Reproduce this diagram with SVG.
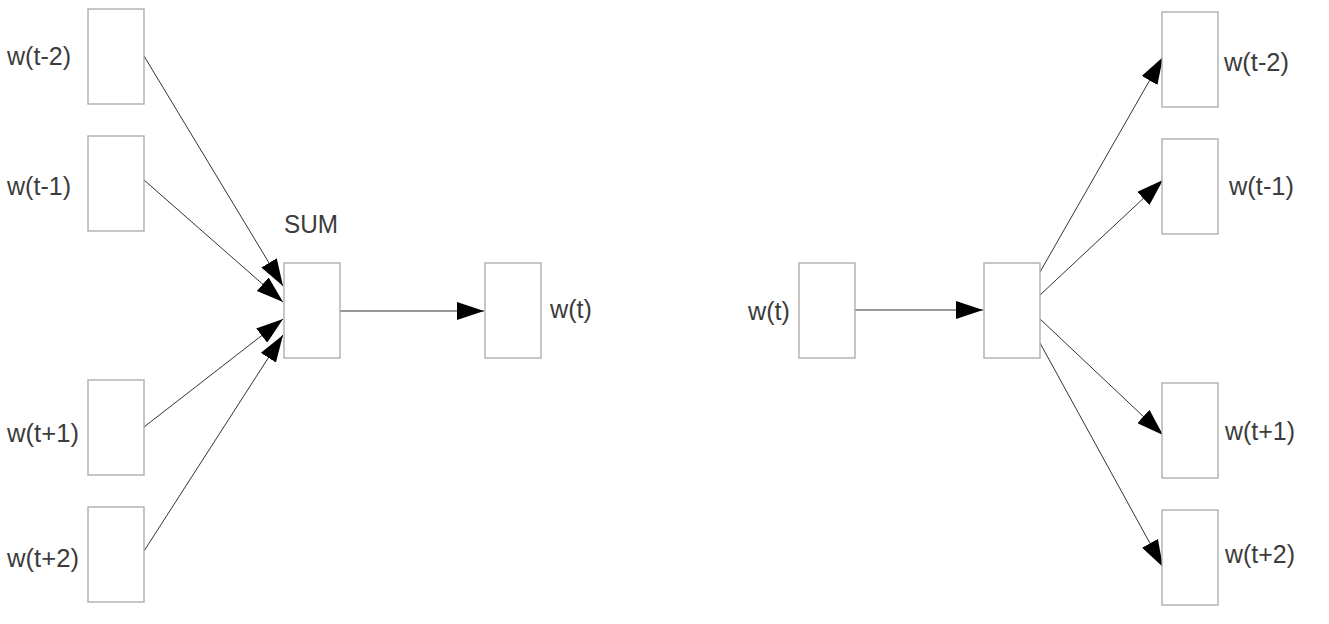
<svg xmlns="http://www.w3.org/2000/svg" width="1329" height="624" viewBox="0 0 1329 624">
<style>
.box{fill:#fff;stroke:#a8a8a8;stroke-width:1.3}
.lbl{font-family:"Liberation Sans",Arial,sans-serif;font-size:25px;fill:#3c3c3c}
.edge{stroke:#333;stroke-width:1;fill:none;marker-end:url(#ah)}
</style>
<defs>
<marker id="ah" markerUnits="userSpaceOnUse" markerWidth="28" markerHeight="18" refX="27" refY="9" orient="auto">
<path d="M0,0 L27,9 L0,18 Z" fill="#000"/>
</marker>
</defs>
<rect width="1329" height="624" fill="#fff"/>
<g id="connectors">
<line class="edge" x1="144" y1="56" x2="283" y2="286"/>
<line class="edge" x1="144" y1="180" x2="283" y2="302"/>
<line class="edge" x1="144" y1="427" x2="283" y2="319"/>
<line class="edge" x1="144" y1="551" x2="283" y2="335"/>
<line class="edge" x1="340" y1="311" x2="484" y2="311"/>
<line class="edge" x1="855" y1="310" x2="983" y2="310"/>
<line class="edge" x1="1040" y1="272" x2="1163" y2="57"/>
<line class="edge" x1="1040" y1="295" x2="1163" y2="180"/>
<line class="edge" x1="1040" y1="319" x2="1163" y2="435"/>
<line class="edge" x1="1040" y1="343" x2="1163" y2="567"/>
</g>
<g id="cbow-in-t-2"><rect class="box" x="88" y="9" width="56" height="95"/><text class="lbl" x="7" y="65" textLength="64" lengthAdjust="spacingAndGlyphs">w(t-2)</text></g>
<g id="cbow-in-t-1"><rect class="box" x="88" y="136" width="56" height="95"/><text class="lbl" x="7" y="195" textLength="64" lengthAdjust="spacingAndGlyphs">w(t-1)</text></g>
<g id="cbow-in-t+1"><rect class="box" x="88" y="380" width="56" height="95"/><text class="lbl" x="7" y="442" textLength="72" lengthAdjust="spacingAndGlyphs">w(t+1)</text></g>
<g id="cbow-in-t+2"><rect class="box" x="88" y="507" width="56" height="95"/><text class="lbl" x="7" y="567" textLength="72" lengthAdjust="spacingAndGlyphs">w(t+2)</text></g>
<g id="cbow-sum"><rect class="box" x="284" y="263" width="56" height="95"/><text class="lbl" x="284" y="233" textLength="54" lengthAdjust="spacingAndGlyphs">SUM</text></g>
<g id="cbow-out"><rect class="box" x="485" y="263" width="56" height="95"/><text class="lbl" x="550" y="318" textLength="42" lengthAdjust="spacingAndGlyphs">w(t)</text></g>
<g id="sg-in"><rect class="box" x="799" y="263" width="56" height="95"/><text class="lbl" x="748" y="320" textLength="42" lengthAdjust="spacingAndGlyphs">w(t)</text></g>
<g id="sg-proj"><rect class="box" x="984" y="263" width="56" height="95"/></g>
<g id="sg-out-t-2"><rect class="box" x="1162" y="12" width="56" height="95"/><text class="lbl" x="1224" y="71" textLength="65" lengthAdjust="spacingAndGlyphs">w(t-2)</text></g>
<g id="sg-out-t-1"><rect class="box" x="1162" y="139" width="56" height="95"/><text class="lbl" x="1229" y="195" textLength="65" lengthAdjust="spacingAndGlyphs">w(t-1)</text></g>
<g id="sg-out-t+1"><rect class="box" x="1162" y="383" width="56" height="95"/><text class="lbl" x="1225" y="440" textLength="70" lengthAdjust="spacingAndGlyphs">w(t+1)</text></g>
<g id="sg-out-t+2"><rect class="box" x="1162" y="510" width="56" height="95"/><text class="lbl" x="1225" y="563" textLength="70" lengthAdjust="spacingAndGlyphs">w(t+2)</text></g>
</svg>
